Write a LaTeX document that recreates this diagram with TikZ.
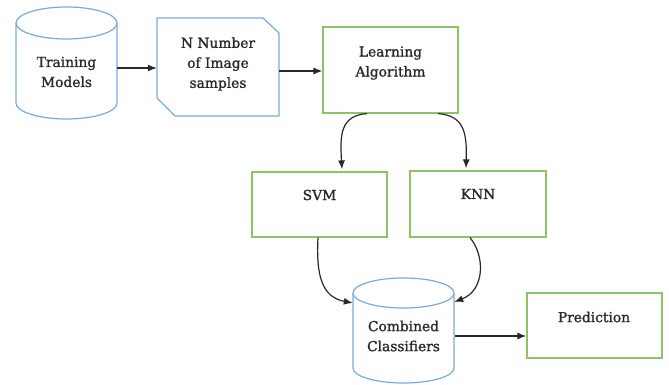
\documentclass[tikz,border=0pt]{standalone}
\usepackage{fontspec}
\setmainfont{DejaVu Serif}[FakeBold=1.2]
\usetikzlibrary{arrows.meta}
\definecolor{cylblue}{RGB}{120,170,225}
\definecolor{boxgreen}{RGB}{140,195,100}
\definecolor{ink}{RGB}{40,40,40}
\begin{document}
\begin{tikzpicture}[x=1pt,y=1pt,
  txt/.style={align=center, text=ink, font=\fontsize{13.8}{20}\selectfont, inner sep=0pt},
  cylline/.style={draw=cylblue, line width=1.2pt},
  gbox/.style={draw=boxgreen, line width=1.2pt, inner sep=0pt},
  arr/.style={draw=ink, line width=1.2pt, -{Latex[length=9pt,width=7pt]}}]
\useasboundingbox (0,0) rectangle (669,385);

% Training Models cylinder
\draw[cylline] (16,362) -- (16,282) arc[start angle=180,end angle=360,x radius=50.5,y radius=16] -- (117,362);
\draw[cylline] (66.5,362) ellipse [x radius=50.5, y radius=16];
\node[txt, minimum width=101pt] (tm) at (66.5,313) {Training\\Models};

% Image samples (cut-corner card)
\draw[cylline, line join=round] (157,367) -- (263,367) -- (279,352) -- (279,269) -- (175,269) -- (157,287) -- cycle;
\node[txt, minimum width=122pt] (nn) at (218,321) {N Number\\of Image\\samples};

% Learning algorithm
\node[gbox, minimum width=135pt, minimum height=86pt] (la) at (390.5,315) {};
\node[txt] (lat) at (390.5,322) {Learning\\Algorithm};

% Classifiers
\node[gbox, minimum width=135pt, minimum height=65pt] (svm) at (319.5,180.5) {};
\node[txt] (svmt) at (319.5,190) {SVM};
\node[gbox, minimum width=136pt, minimum height=66pt] (knn) at (478,181) {};
\node[txt] (knnt) at (478,191) {KNN};

% Combined classifiers cylinder
\draw[cylline] (353,92) -- (353,17) arc[start angle=180,end angle=360,x radius=50.5,y radius=15] -- (454,92);
\draw[cylline] (403.5,92) ellipse [x radius=50.5, y radius=15];
\node[txt, minimum width=101pt] (cc) at (403.5,49) {Combined\\Classifiers};

% Prediction
\node[gbox, minimum width=135pt, minimum height=65pt] (pred) at (594.5,59.5) {};
\node[txt] (predt) at (594,68) {Prediction};

% Connectors
\draw[arr] ([yshift=4pt]tm.east) -- ([yshift=-4pt]nn.west);
\draw[arr] ([yshift=-7pt]nn.east) -- ([yshift=-1pt]la.west);
\draw[arr] ([xshift=-23.5pt]la.south) .. controls +(-27,-2) and +(-2,34) .. ([xshift=22.5pt,yshift=2pt]svm.north);
\draw[arr] ([xshift=47.5pt]la.south) .. controls +(26,-2) and +(1,36) .. ([xshift=-12pt,yshift=2pt]knn.north);
\draw[arr] ([xshift=-1.5pt]svm.south) .. controls +(-2,-38) and +(-31,6) .. ([yshift=33pt]cc.west);
\draw[arr] ([xshift=-8pt]knn.south) .. controls +(15,-18) and +(31,12) .. ([yshift=34pt]cc.east);
\draw[arr] ([xshift=1pt]cc.east) -- ([yshift=-10.5pt]pred.west);
\end{tikzpicture}
\end{document}
